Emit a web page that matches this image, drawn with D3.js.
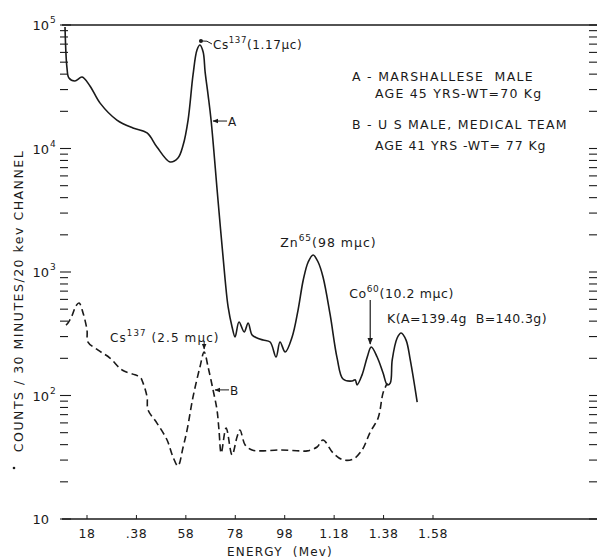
<!DOCTYPE html>
<html><head><meta charset="utf-8">
<script src="https://cdn.jsdelivr.net/npm/d3@7"></script>
<style>
body{margin:0;background:#fff}
svg{display:block}
text{font-family:"DejaVu Sans",sans-serif;fill:#1a1a1a}
</style>
</head><body>
<svg id="c" width="599" height="559"></svg>
<script>
// Curve A – Marshallese male (solid)
const energyA=[0.091,0.099,0.107,0.131,0.160,0.192,0.233,0.301,0.366,0.423,0.463,0.516,0.548,0.569,0.589,0.609,0.625,0.637,0.650,0.658,0.670,0.682,0.710,0.739,0.751,0.767,0.779,0.795,0.816,0.832,0.848,0.868,0.893,0.921,0.945,0.961,0.982,1.010,1.034,1.055,1.075,1.095,1.115,1.135,1.164,1.192,1.216,1.253,1.265,1.273,1.293,1.314,1.330,1.354,1.378,1.395,1.407,1.415,1.435,1.451,1.471,1.488,1.516];
const countsA=[96300,44900,37200,35200,37900,32100,23300,17000,14650,13370,10280,7780,8380,10660,17000,39400,62800,68900,60400,41600,27100,17000,3830,861,521,359,298,394,327,386,309,292,281,271,205,271,225,298,492,861,1205,1374,1205,912,449,201,136,131,134,122,147,205,247,205,152,122,126,194,292,321,281,194,88.5];
// Curve B – U.S. male, medical team (dashed)
const energyB=[0.095,0.103,0.119,0.135,0.148,0.164,0.180,0.184,0.225,0.273,0.322,0.374,0.395,0.407,0.423,0.427,0.463,0.504,0.528,0.548,0.569,0.585,0.609,0.637,0.654,0.670,0.690,0.706,0.714,0.723,0.743,0.767,0.787,0.799,0.820,0.848,0.880,0.961,1.042,1.071,1.111,1.135,1.176,1.216,1.257,1.293,1.326,1.358,1.378,1.395];
const countsB=[372,386,441,531,561,466,339,271,233,201,161,147,141,126,97.3,76.4,59.8,43.6,31.8,26.9,38.3,52.6,97.3,170,225,170,111,76.4,52.6,34.2,54.6,33.0,46.1,52.6,39.7,36.2,35.6,36.2,35.6,35.6,38.3,43.6,34.2,30.1,30.6,36.2,50.6,65.8,105,126];
// Axis ticks
const xTicks=[0.18,0.38,0.58,0.78,0.98,1.18,1.38,1.58];
const xTickLabels=["18",".38","58","78","98","1.18","1.38","1.58"];
const yDecades=[10,100,1000,10000,100000];
const yExponents=["","2","3","4","5"];

const svg=d3.select("#c");
const x=d3.scaleLinear().domain([0.18,1.58]).range([87,433]);
const y=d3.scaleLog().domain([10,1e5]).range([519,25]);
const X0=62,X1=597;
const ink="#1a1a1a";

// frame lines
svg.append("line").attr("x1",X0).attr("x2",X1).attr("y1",y(1e5)).attr("y2",y(1e5)).attr("stroke",ink).attr("stroke-width",1.3);
svg.append("line").attr("x1",X0).attr("x2",X1).attr("y1",y(10)).attr("y2",y(10)).attr("stroke",ink).attr("stroke-width",1.3);

// minor log ticks left and right
const minor=[];
for(let d=10;d<1e5;d*=10){for(let k=1;k<=9;k++)minor.push(k*d);}
minor.push(1e5);
svg.append("g").selectAll("line").data(minor).join("line")
 .attr("x1",X0-2).attr("x2",d=>yDecades.includes(d)?X0+9:X0+6)
 .attr("y1",d=>y(d)).attr("y2",d=>y(d)).attr("stroke",ink).attr("stroke-width",1.1);
svg.append("g").selectAll("line").data(minor).join("line")
 .attr("x1",X1-8).attr("x2",X1)
 .attr("y1",d=>y(d)).attr("y2",d=>y(d)).attr("stroke",ink).attr("stroke-width",1.1);

// y tick labels
const yl=svg.append("g").selectAll("g").data(yDecades).join("g");
yl.append("text").attr("x",49).attr("y",d=>y(d)+5).attr("text-anchor","end").attr("font-size",13).text("10");
yl.append("text").attr("x",50).attr("y",d=>y(d)-2).attr("font-size",9).text((d,i)=>yExponents[i]);

// x ticks
svg.append("g").selectAll("line").data(xTicks).join("line")
 .attr("x1",d=>x(d)).attr("x2",d=>x(d)).attr("y1",y(10)).attr("y2",y(10)-4).attr("stroke",ink);
svg.append("g").selectAll("text").data(xTicks).join("text")
 .attr("x",d=>x(d)).attr("y",538).attr("text-anchor","middle").attr("font-size",12.5).attr("letter-spacing",0.5).text((d,i)=>xTickLabels[i]);

// axis titles
svg.append("text").attr("x",280).attr("y",556).attr("text-anchor","middle").attr("font-size",12).attr("letter-spacing",1.2).text("ENERGY\u00a0 (Mev)");
svg.append("text").attr("transform","translate(23,301) rotate(-90)").attr("text-anchor","middle").attr("font-size",12.5).attr("letter-spacing",1.5).text("COUNTS / 30 MINUTES/20 kev CHANNEL");
svg.append("circle").attr("cx",14).attr("cy",468).attr("r",1.3).attr("fill",ink);

// curves
const line=d3.line().x(d=>x(d[0])).y(d=>y(d[1])).curve(d3.curveCatmullRom.alpha(0.5));
svg.append("path").attr("d",line(d3.zip(energyA,countsA))).attr("fill","none").attr("stroke",ink).attr("stroke-width",1.6);
svg.append("path").attr("d",line(d3.zip(energyB,countsB))).attr("fill","none").attr("stroke",ink).attr("stroke-width",1.6).attr("stroke-dasharray","7,4");

// arrow marker
const defs=svg.append("defs");
defs.append("marker").attr("id","ah").attr("viewBox","0 0 10 10").attr("refX",9).attr("refY",5)
 .attr("markerWidth",6).attr("markerHeight",6).attr("orient","auto")
 .append("path").attr("d","M0,1 L10,5 L0,9 Z").attr("fill",ink);

function sup(g,xx,yy,base,exp,rest,fs,ls){
  const t=g.append("text").attr("x",xx).attr("y",yy).attr("font-size",fs).attr("letter-spacing",ls);
  t.append("tspan").text(base);
  t.append("tspan").attr("dy",-6).attr("font-size",fs*0.72).text(exp);
  t.append("tspan").attr("dy",6).text(rest);
  return t;
}
const ann=svg.append("g");
// Cs137 on curve A
const pA=[x(0.637),y(68900)];
ann.append("circle").attr("cx",pA[0]+1).attr("cy",pA[1]-4).attr("r",2).attr("fill",ink);
ann.append("path").attr("d",`M${pA[0]+2},${pA[1]-4} Q${pA[0]+7},${pA[1]-5} ${pA[0]+12},${pA[1]-1}`).attr("fill","none").attr("stroke",ink);
sup(ann,pA[0]+13,pA[1]+4,"Cs","137","(1.17\u03bcc)",12,0.6);
// A and B pointers
const pa=[x(0.682),y(17000)];
ann.append("line").attr("x1",pa[0]+16).attr("x2",pa[0]+2).attr("y1",pa[1]+1).attr("y2",pa[1]+1).attr("stroke",ink).attr("marker-end","url(#ah)");
ann.append("text").attr("x",pa[0]+17).attr("y",pa[1]+6).attr("font-size",12).text("A");
const pb=[x(0.690),y(111)];
ann.append("line").attr("x1",pb[0]+16).attr("x2",pb[0]+2).attr("y1",pb[1]).attr("y2",pb[1]).attr("stroke",ink).attr("marker-end","url(#ah)");
ann.append("text").attr("x",pb[0]+17).attr("y",pb[1]+5).attr("font-size",12).text("B");
// Cs137 on curve B
const pB=[x(0.654),y(225)];
ann.append("line").attr("x1",pB[0]).attr("x2",pB[0]).attr("y1",pB[1]-10).attr("y2",pB[1]-3).attr("stroke",ink).attr("marker-end","url(#ah)");
sup(ann,110,pB[1]-10,"Cs","137"," (2.5 m\u03bcc)",12,1.1);
// Zn65
const pZ=[x(1.095),y(1374)];
sup(ann,pZ[0]-33,pZ[1]-8,"Zn","65","(98 m\u03bcc)",12.5,1);
// Co60
const pC=[x(1.330),y(247)];
sup(ann,pC[0]-22,pC[1]-49,"Co","60","(10.2 m\u03bcc)",12.5,0.6);
ann.append("line").attr("x1",pC[0]-1).attr("x2",pC[0]-1).attr("y1",pC[1]-47).attr("y2",pC[1]-3).attr("stroke",ink).attr("stroke-width",1.2).attr("marker-end","url(#ah)");
// K
const pK=[x(1.451),y(321)];
ann.append("text").attr("x",pK[0]-14).attr("y",pK[1]-10).attr("font-size",12.5).attr("letter-spacing",0.4).text("K(A=139.4g\u00a0\u00a0B=140.3g)");

// legend
const lg=svg.append("g").attr("font-size",12.5);
lg.append("text").attr("x",352).attr("y",81).attr("letter-spacing",1.3).text("A - MARSHALLESE\u00a0\u00a0MALE");
lg.append("text").attr("x",375).attr("y",98).attr("letter-spacing",1.2).text("AGE 45 YRS-WT=70 Kg");
lg.append("text").attr("x",352).attr("y",129).attr("letter-spacing",1.25).text("B - U S MALE, MEDICAL TEAM");
lg.append("text").attr("x",375).attr("y",150).attr("letter-spacing",0.9).text("AGE 41 YRS -WT= 77 Kg");
</script>
</body></html>
